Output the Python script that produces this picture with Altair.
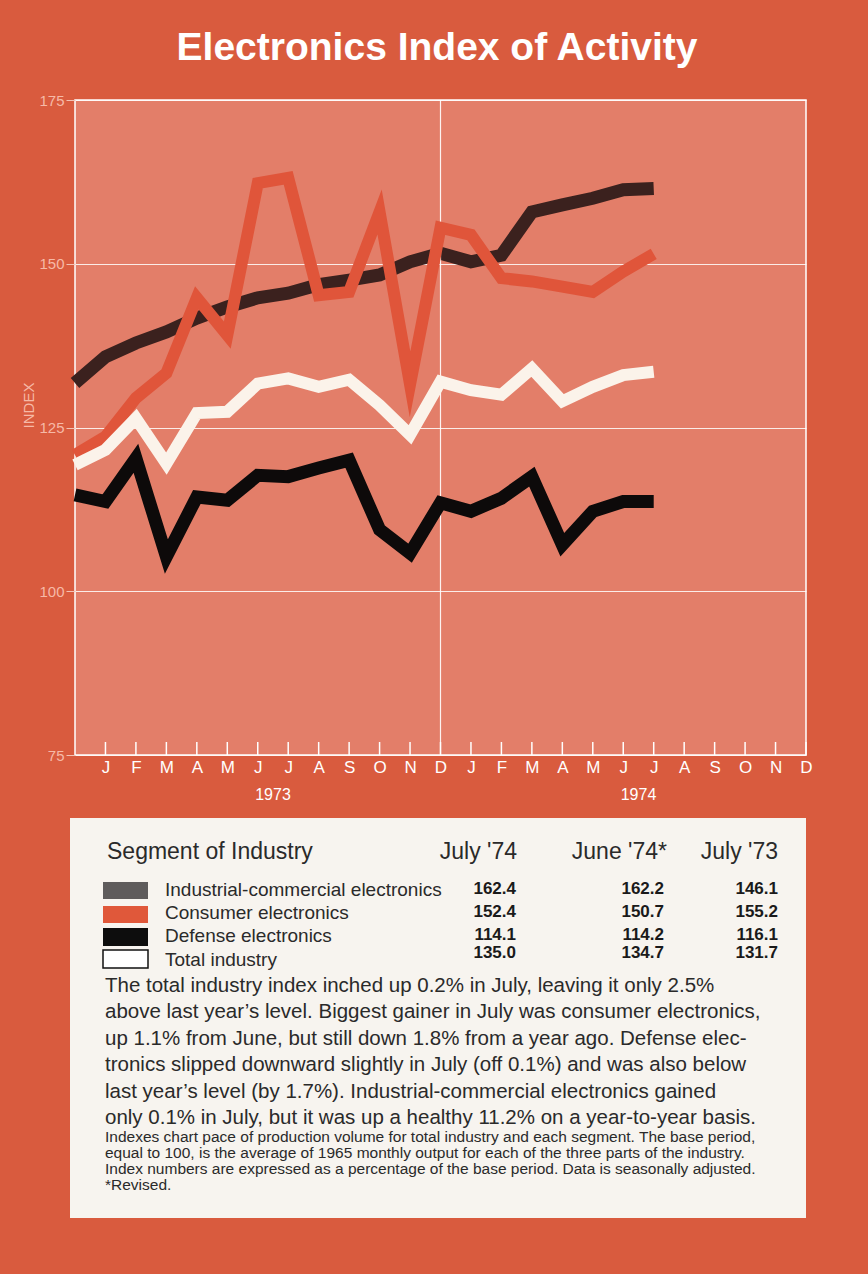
import altair as alt
import pandas as pd

# month index: 0 = Dec 1972 ... 19 = Jul 1974 ; axis runs to 24 = Dec 1974
months = list(range(20))
industrial = [131.8, 135.8, 137.9, 139.6, 141.7, 143.4, 144.8, 145.5, 146.8, 147.5, 148.3, 150.3,
              151.6, 150.3, 151.3, 157.9, 159.0, 160.0, 161.3, 161.5]
consumer = [120.8, 123.6, 129.5, 133.3, 144.8, 139.1, 162.3, 163.1, 145.2, 145.7, 157.9, 131.6,
            155.5, 154.4, 147.8, 147.3, 146.5, 145.7, 148.8, 151.5]
total = [119.3, 121.6, 126.4, 119.5, 127.2, 127.4, 131.7, 132.5, 131.2, 132.3, 128.4, 123.9,
         132.0, 130.7, 130.0, 134.0, 129.0, 131.2, 133.0, 133.5]
defense = [114.7, 113.7, 120.3, 105.3, 114.4, 113.9, 117.7, 117.5, 118.8, 120.0, 109.4, 105.8,
           113.5, 112.2, 114.2, 117.5, 107.1, 112.2, 113.7, 113.7]

month_letters = ["J", "F", "M", "A", "M", "J", "J", "A", "S", "O", "N", "D"]
tick_months = list(range(1, 25))
years = ["1973", "1974"]
year_mid = [6.5, 18.5]
y_ticks = [75, 100, 125, 150, 175]

segments = ["Industrial-commercial electronics", "Consumer electronics",
            "Defense electronics", "Total industry"]
col_heads = ["July '74", "June '74*", "July '73"]
july74 = ["162.4", "152.4", "114.1", "135.0"]
june74 = ["162.2", "150.7", "114.2", "134.7"]
july73 = ["146.1", "155.2", "116.1", "131.7"]

paragraph = [
    "The total industry index inched up 0.2% in July, leaving it only 2.5%",
    "above last year\u2019s level. Biggest gainer in July was consumer electronics,",
    "up 1.1% from June, but still down 1.8% from a year ago. Defense elec-",
    "tronics slipped downward slightly in July (off 0.1%) and was also below",
    "last year\u2019s level (by 1.7%). Industrial-commercial electronics gained",
    "only 0.1% in July, but it was up a healthy 11.2% on a year-to-year basis.",
]
footnote = [
    "Indexes chart pace of production volume for total industry and each segment. The base period,",
    "equal to 100, is the average of 1965 monthly output for each of the three parts of the industry.",
    "Index numbers are expressed as a percentage of the base period. Data is seasonally adjusted.",
    "*Revised.",
]

BG = "#d95b3e"
PLOT = "#e37e69"
C_IND = "#3b211e"
C_CON = "#e0553a"
C_TOT = "#fbf3ea"
C_DEF = "#0d0a0a"
LABEL = "#f6b9a7"
FONT = "Liberation Sans"

W, H = 731, 655

x_scale = alt.Scale(domain=[0, 24], nice=False, zero=False)
y_scale = alt.Scale(domain=[75, 175], nice=False, zero=False)

label_expr = "[" + ",".join("'%s'" % m for m in month_letters) + "][(datum.value - 1) % 12]"

x_axis = alt.Axis(values=tick_months, labelExpr=label_expr, ticks=False, domain=False, grid=False,
                  labelColor="white", labelFontSize=17, labelFont=FONT, labelPadding=4,
                  labelFlush=False, title=None)
y_axis = alt.Axis(values=y_ticks, grid=True, gridColor="white", gridWidth=1, gridOpacity=0.85,
                  tickColor="#f3c2b4", tickSize=9, tickWidth=1, domain=False,
                  labelColor=LABEL, labelFontSize=15, labelFont=FONT, labelPadding=2,
                  title="INDEX", titleColor=LABEL, titleFontSize=15, titleFont=FONT,
                  titleFontWeight="normal", titleX=-47, titleY=305, titleAngle=270,
                  titleAlign="center", titleBaseline="middle")

X = lambda f: alt.X(f, scale=x_scale, axis=x_axis)
Y = lambda f: alt.Y(f, scale=y_scale, axis=y_axis)


def series_layer(values, color, width):
    df = pd.DataFrame({"month": months, "value": values})
    return alt.Chart(df).mark_line(color=color, strokeWidth=width, strokeJoin="miter",
                                   strokeCap="butt", strokeMiterLimit=6).encode(
        x=X("month:Q"), y=Y("value:Q"))


def txt(s, x, y, size, align="left", weight="normal", color="#222", font=FONT, baseline="middle"):
    return alt.Chart(alt.Data(values=[{}])).mark_text(
        align=align, baseline=baseline, fontSize=size, fontWeight=weight, color=color, font=font
    ).encode(x=alt.value(x), y=alt.value(y), text=alt.value(s))


def box(x1, x2, y1, y2, fill, stroke=None):
    kw = {}
    if stroke:
        kw = {"stroke": stroke, "strokeWidth": 1.5}
    return alt.Chart(alt.Data(values=[{}])).mark_rect(fill=fill, **kw).encode(
        x=alt.value(x1), x2=alt.value(x2), y=alt.value(y1), y2=alt.value(y2))


dec_line = alt.Chart(pd.DataFrame({"month": [12], "value": [75]})).mark_rule(
    color="white", strokeWidth=1.2, opacity=0.9).encode(x=X("month:Q"))

tick_df = pd.DataFrame({"month": tick_months})
bottom_ticks = alt.Chart(tick_df).mark_rule(color="white", strokeWidth=1.5).encode(
    x=X("month:Q"), y=alt.value(H), y2=alt.value(H - 13))

year_df = pd.DataFrame({"month": year_mid, "label": years})
year_text = alt.Chart(year_df).mark_text(color="white", fontSize=16, font=FONT).encode(
    x=X("month:Q"), y=alt.value(695), text="label:N")

layers = [
    series_layer(industrial, C_IND, 13),
    dec_line, bottom_ticks,
    series_layer(consumer, C_CON, 12),
    series_layer(total, C_TOT, 12),
    series_layer(defense, C_DEF, 13),
    year_text,
    txt("Electronics Index of Activity", 362, -52, 39, align="center", weight="bold", color="white"),
    box(-5, 731, 718, 1118, "#f7f4ef"),
    txt("Segment of Industry", 32, 752, 23, color="#2a2a2a"),
]
for head, xr in zip(col_heads, [442, 592, 703]):
    layers.append(txt(head, xr, 752, 23, align="right", color="#2a2a2a"))

swatch_y = [(782, 799), (806, 823), (828, 846), (850, 868)]
swatch_fill = ["#5f5c5c", "#e0583a", "#0d0d0d", "#ffffff"]
label_y = [790, 813, 836, 860]
value_y = [789, 812, 835, 853]
for i, seg in enumerate(segments):
    y1, y2 = swatch_y[i]
    layers.append(box(28, 73, y1, y2, swatch_fill[i], stroke="#111" if i == 3 else None))
    layers.append(txt(seg, 90, label_y[i], 19, color="#2a2a2a"))
    layers.append(txt(july74[i], 441, value_y[i], 17, align="right", weight="bold", color="#1a1a1a"))
    layers.append(txt(june74[i], 589, value_y[i], 17, align="right", weight="bold", color="#1a1a1a"))
    layers.append(txt(july73[i], 703, value_y[i], 17, align="right", weight="bold", color="#1a1a1a"))

for i, line in enumerate(paragraph):
    layers.append(txt(line, 30, 886 + i * 26.4, 20.5, color="#2a2a2a"))
for i, line in enumerate(footnote):
    layers.append(txt(line, 30, 1037 + i * 16, 15.5, color="#2a2a2a"))

chart = alt.layer(*layers).properties(
    width=W, height=H,
    padding={"left": 75, "top": 100, "right": 62, "bottom": 519},
    autosize=alt.AutoSizeParams(type="none"),
    background=BG,
).configure_view(fill=PLOT, stroke="white", strokeWidth=1.5)

chart.save("out.html", embed_options={"renderer": "svg", "actions": False})
